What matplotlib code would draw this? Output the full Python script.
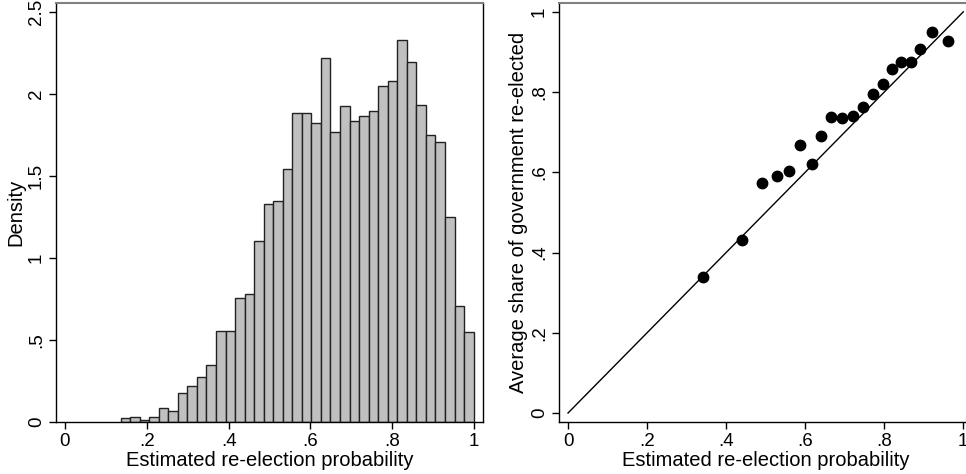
import numpy as np
import matplotlib
matplotlib.use("Agg")
import matplotlib.pyplot as plt

plt.rcParams['font.family'] = ['Liberation Sans', 'DejaVu Sans']

# histogram of estimated re-election probability (37 bins)
bin_lo = 0.136
bin_hi = 0.999
density = [0.022, 0.029, 0.012, 0.029, 0.087, 0.065, 0.179, 0.218, 0.276, 0.346,
           0.555, 0.555, 0.754, 0.782, 1.106, 1.327, 1.348, 1.543, 1.882, 1.882,
           1.821, 2.221, 1.768, 1.927, 1.835, 1.868, 1.898, 2.049, 2.079, 2.327,
           2.193, 1.935, 1.748, 1.709, 1.248, 0.705, 0.547]

# binned calibration: estimated prob vs actual share re-elected
est_prob = [0.342, 0.441, 0.492, 0.529, 0.560, 0.588, 0.616, 0.641, 0.666, 0.693,
            0.720, 0.745, 0.771, 0.797, 0.820, 0.842, 0.867, 0.891, 0.922, 0.962]
share_reelected = [0.338, 0.432, 0.574, 0.591, 0.603, 0.668, 0.620, 0.690, 0.738, 0.735,
                   0.740, 0.764, 0.794, 0.821, 0.857, 0.875, 0.874, 0.907, 0.949, 0.927]

x_ticks = [0, 0.2, 0.4, 0.6, 0.8, 1]
x_labels = ['0', '.2', '.4', '.6', '.8', '1']
hy_ticks = [0, 0.5, 1, 1.5, 2, 2.5]
hy_labels = ['0', '.5', '1', '1.5', '2', '2.5']
sy_ticks = [0, 0.2, 0.4, 0.6, 0.8, 1]
sy_labels = ['0', '.2', '.4', '.6', '.8', '1']

fig = plt.figure(figsize=(9.66, 4.74), dpi=100)
W, H = 966, 474

def px_axes(x0, y0, x1, y1):
    return fig.add_axes([x0 / W, 1 - y1 / H, (x1 - x0) / W, (y1 - y0) / H])

def style(ax):
    ax.tick_params(direction='out', length=5, width=1, labelsize=13.5, pad=3)
    for s in ['left', 'bottom', 'right']:
        ax.spines[s].set_linewidth(1)
        ax.spines[s].set_color('black')
    ax.spines['top'].set_color('#808080')
    ax.spines['top'].set_linewidth(1.5)
    for lab in ax.get_yticklabels():
        lab.set_rotation(90)
        lab.set_va('center')

# left: histogram
ax1 = px_axes(56, 3, 483, 422)
edges = np.linspace(bin_lo, bin_hi, len(density) + 1)
ax1.bar(edges[:-1], density, width=np.diff(edges), align='edge',
        color='#c0c0c0', edgecolor='#222222', linewidth=1)
ax1.set_xlim(-0.022, 1.022)
ax1.set_ylim(0, 2.555)
ax1.set_xticks(x_ticks, x_labels)
ax1.set_yticks(hy_ticks, hy_labels)
ax1.set_xlabel('Estimated re-election probability', fontsize=14.5, labelpad=1)
ax1.set_ylabel('Density', fontsize=14.5, labelpad=2)
style(ax1)

# right: calibration scatter
ax2 = px_axes(559, 3, 972, 422)
ax2.plot([0, 1], [0, 1], color='black', linewidth=1)
ax2.plot(est_prob, share_reelected, 'o', color='black', markersize=7.5)
ax2.set_xlim(-0.0228, 1.022)
ax2.set_ylim(-0.0224, 1.022)
ax2.set_xticks(x_ticks, x_labels)
ax2.set_yticks(sy_ticks, sy_labels)
ax2.set_xlabel('Estimated re-election probability', fontsize=14.5, labelpad=1)
ax2.set_ylabel('Average share of government re-elected', fontsize=14.5, labelpad=2)
style(ax2)

fig.savefig('out.png', dpi=100)
